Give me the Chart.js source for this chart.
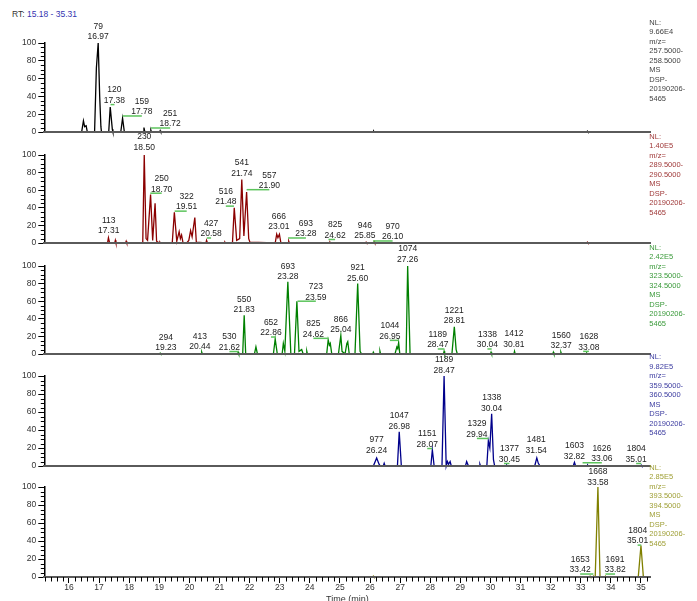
<!DOCTYPE html>
<html>
<head>
<meta charset="utf-8">
<script src="https://cdn.jsdelivr.net/npm/chart.js@4/dist/chart.umd.min.js"></script>
<style>
html,body{margin:0;padding:0;background:#fff;overflow:hidden;}
#wrap{position:relative;width:697px;height:601px;}
#wrap canvas{position:absolute;left:0;top:0;}
#rt{position:absolute;left:12px;top:9px;font:8.5px "Liberation Sans",Arial,sans-serif;color:#333;white-space:nowrap;}
#rt span{color:#3434b0;}
</style>
</head>
<body>
<div id="wrap">
<div id="rt">RT: <span>15.18 - 35.31</span></div>
<canvas id="c0" width="697" height="601"></canvas>
<canvas id="c1" width="697" height="601"></canvas>
<canvas id="c2" width="697" height="601"></canvas>
<canvas id="c3" width="697" height="601"></canvas>
<canvas id="c4" width="697" height="601"></canvas>
</div>
<script>
// ---------- DATA ----------
const rtRange = [15.18, 35.31];
const timeTicks = [16,17,18,19,20,21,22,23,24,25,26,27,28,29,30,31,32,33,34,35];

// Panel 1: m/z 257.5-258.5
const p1Time = [15.18,16.42,16.48,16.52,16.57,16.61,16.85,16.91,16.97,17.02,17.06,17.08,17.32,17.37,17.44,17.46,17.72,17.78,17.84,18.46,18.49,18.52,18.70,18.72,18.74,19.01,19.03,19.05,26.10,26.12,26.14,33.20,33.22,33.24,35.31];
const p1Int  = [0,0,12.5,6,7,0,0,72,100,40,6,0,0,28,3,0,0,15.5,0,0,5,0,0,2,0,0,1.5,0,0,1,0,0,1,0,0];
const p1Scans = ['79','120','159','251'];
const p1RTs   = ['16.97','17.38','17.78','18.72'];

// Panel 2: m/z 289.5-290.5
const p2Time = [15.18,17.28,17.31,17.35,17.52,17.54,17.56,17.88,17.90,17.92,
 18.45,18.50,18.56,18.61,18.71,18.78,18.86,18.91,19.00,19.02,19.04,
 19.43,19.50,19.58,19.66,19.70,19.74,19.79,
 19.91,19.98,20.04,20.09,20.18,20.23,
 20.55,20.57,20.60,21.16,21.18,21.20,
 21.43,21.49,21.57,21.67,21.74,21.81,21.90,21.97,22.01,
 22.85,22.90,22.94,22.99,23.04,
 23.28,23.30,23.32,24.65,24.67,24.69,25.85,25.87,25.89,26.12,26.14,26.16,33.20,33.22,33.24,35.31];
const p2Int = [0,0,6,0,0,3,0,0,2,0,
 0,100,5,3,55,3,45,2,0,1,0,
 0,35,2,13,5,9,0,
 0,3,14,7,29,1,
 0,3,0,0,1,0,
 0,40,3,5,72,8,58,5,1,
 0,10,6,10,0,
 0,2,0,0,1,0,0,1,0,0,1.5,0,0,1,0,0];
const p2Scans = ['113','230','250','322','427','516','541','557','666','693','825','946','970'];
const p2RTs   = ['17.31','18.50','18.70','19.51','20.58','21.48','21.74','21.90','23.01','23.28','24.62','25.85','26.10'];

// Panel 3: m/z 323.5-324.5
const p3Time = [15.18,19.01,19.03,19.05,20.39,20.41,20.43,21.60,21.62,21.64,
 21.77,21.82,21.87,22.16,22.21,22.26,
 22.79,22.85,22.92,23.08,23.12,23.17,23.27,23.37,
 23.49,23.57,23.64,23.73,23.78,23.88,23.90,23.92,
 24.56,24.61,24.65,24.68,24.73,
 24.95,24.98,25.03,25.07,25.17,25.23,25.26,25.31,
 25.50,25.59,25.67,25.72,
 26.09,26.11,26.14,26.31,26.33,26.35,
 26.83,26.89,26.92,26.95,26.99,
 27.20,27.25,27.33,
 28.44,28.46,28.48,
 28.72,28.80,28.86,28.90,
 30.00,30.02,30.04,30.78,30.80,30.82,32.07,32.09,32.11,32.32,32.34,32.36,33.18,33.20,33.22,35.31];
const p3Int = [0,0,1,0,0,2,0,0,2,0,
 0,44,0,0,8,0,
 0,17,0,0,12,3,82,0,
 0,60,3,5,0,0,3,0,
 0,16,10,12,0,
 0,8,21,3,0,12,14,0,
 0,80,3,0,
 0,2,0,0,3,0,
 0,8,6,13,0,
 0,100,0,
 0,3,0,
 0,31,5,0,
 0,2,0,0,3,0,0,2,0,0,2,0,0,1,0,0];
const p3Scans = ['294','413','530','550','652','693','723','825','866','921','1044','1074','1189','1221','1338','1412','1560','1628'];
const p3RTs   = ['19.23','20.44','21.62','21.83','22.86','23.28','23.59','24.62','25.04','25.60','26.95','27.26','28.47','28.81','30.04','30.81','32.37','33.08'];

// Panel 4: m/z 359.5-360.5
const p4Time = [15.18,26.11,26.22,26.30,26.34,26.44,26.47,26.50,
 26.91,26.97,27.04,
 28.02,28.07,28.13,
 28.39,28.46,28.53,28.57,28.61,28.66,28.70,
 29.17,29.21,29.27,29.63,29.65,29.67,
 29.88,29.93,29.98,30.04,30.10,30.14,
 30.52,30.54,30.56,
 31.47,31.54,31.59,31.65,
 32.75,32.79,32.83,33.21,33.23,33.25,34.99,35.01,35.03,35.31];
const p4Int = [0,0,9,2,0,0,3,0,
 0,38,0,
 0,18,0,
 0,100,0,5,2,5,0,
 0,5,0,0,2,0,
 0,28,20,58,7,0,
 0,1,0,
 0,9,3,0,
 0,4,0,0,1,0,0,1,0,0];
const p4Scans = ['977','1047','1151','1189','1329','1338','1377','1481','1603','1626','1804'];
const p4RTs   = ['26.24','26.98','28.07','28.47','29.94','30.04','30.45','31.54','32.82','33.06','35.01'];

// Panel 5: m/z 393.5-394.5
const p5Time = [15.18,26.09,26.11,26.13,33.29,33.31,33.33,33.40,33.42,33.44,33.48,33.57,33.64,33.80,33.82,33.84,34.91,35.00,35.08,35.31];
const p5Int  = [0,0,1,0,0,1,0,0,1,0,0,100,0,0,1,0,0,35,0,0];
const p5Scans = ['1653','1668','1691','1804'];
const p5RTs   = ['33.42','33.58','33.82','35.01'];

// Normalisation levels and mass ranges (right-hand text)
const nlValues = ['9.66E4','1.40E5','2.42E5','9.82E5','2.85E5'];
const mzLow    = ['257.5000','289.5000','323.5000','359.5000','393.5000'];
const mzHigh   = ['258.5000','290.5000','324.5000','360.5000','394.5000'];
const fileName = ['DSP-','20190206-','5465'];

// ---------- ANNOTATION PLACEMENT (time, % level of label foot) ----------
const labelAnchors = [
 [[16.97,102.6],[17.51,30.8],[18.42,18],[19.36,4.5]],
 [[17.32,9.1],[18.50,103.8],[19.08,56.6],[19.91,36.2],[20.72,5.7],[21.21,41.9],[21.74,74.4],[22.655,60.6],[22.97,13.6],[23.87,5.7],[24.84,4],[25.83,3.7],[26.75,2.3]],
 [[19.22,2.3],[20.35,3.4],[21.33,2.8],[21.82,45.3],[22.71,19.3],[23.27,83],[24.20,60],[24.12,17.8],[25.03,22.6],[25.59,81.2],[26.66,15.5],[27.25,103],[28.25,5.7],[28.80,33.2],[29.90,5.7],[30.78,6.5],[32.35,4.9],[33.27,3]],
 [[26.22,12.8],[26.97,39.4],[27.90,19.4],[28.46,101.7],[29.55,30.6],[30.04,59.8],[30.63,2.8],[31.52,12.8],[32.79,6.1],[33.70,3.6],[34.84,2.8]],
 [[32.98,3.3],[33.57,100.9],[34.14,3.3],[34.89,35.4]]
];

// ---------- LAYOUT / STYLE ----------
const W = 697, H = 601, PLOT_L = 44.3, PLOT_R = 650.3;
const panelBox = [[43,132],[155,243],[266,354],[376,466],[487,577]];
const lineColors = ['#000000','#8b0000','#008000','#00008b','#808000'];
const textColors = ['#444444','#a03a3a','#3a9a3a','#3c3ca0','#a0a038'];
const nlOffsets = [-20.5,-18.5,-18.2,-18.7,-19.5];
const FONT = '"Liberation Sans", Arial, sans-serif';

const panels = [
 {time:p1Time, int:p1Int, scans:p1Scans, rts:p1RTs},
 {time:p2Time, int:p2Int, scans:p2Scans, rts:p2RTs},
 {time:p3Time, int:p3Int, scans:p3Scans, rts:p3RTs},
 {time:p4Time, int:p4Int, scans:p4Scans, rts:p4RTs},
 {time:p5Time, int:p5Int, scans:p5Scans, rts:p5RTs}
];

function decorPlugin(i, isBottom) {
  const p = panels[i];
  return {
    id: 'decor' + i,
    afterDraw(chart) {
      const ctx = chart.ctx, xs = chart.scales.x, ys = chart.scales.y, ca = chart.chartArea;
      ctx.save();
      // minor y ticks
      ctx.strokeStyle = '#000'; ctx.lineWidth = 1;
      ctx.beginPath();
      for (let v = 5; v < 100; v += 5) {
        if (v % 20 === 0) continue;
        const y = Math.round(ys.getPixelForValue(v)) + 0.5;
        ctx.moveTo(ca.left - 3.5, y); ctx.lineTo(ca.left, y);
      }
      ctx.stroke();
      // minor x ticks on bottom axis
      if (isBottom) {
        ctx.beginPath();
        for (let k = Math.ceil(rtRange[0] * 5); k <= Math.floor(rtRange[1] * 5); k++) {
          if (k % 5 === 0) continue;
          const x = Math.round(xs.getPixelForValue(k / 5)) + 0.5;
          ctx.moveTo(x, ca.bottom); ctx.lineTo(x, ca.bottom + 4.5);
        }
        ctx.stroke();
      }
      // peak labels with leader lines
      const anchors = labelAnchors[i];
      ctx.font = '8.5px ' + FONT;
      ctx.textAlign = 'center'; ctx.textBaseline = 'middle';
      p.scans.forEach((s, j) => {
        const x = xs.getPixelForValue(anchors[j][0]);
        const y = ys.getPixelForValue(anchors[j][1]);
        const px = xs.getPixelForValue(parseFloat(p.rts[j]));
        if (Math.abs(px - x) > 3) {
          ctx.strokeStyle = '#5cc45c'; ctx.lineWidth = 1.5;
          ctx.beginPath(); ctx.moveTo(px, y); ctx.lineTo(x, y); ctx.stroke();
        }
        ctx.fillStyle = '#222';
        ctx.fillText(p.rts[j], x, y - 4);
        ctx.fillText(s, x, y - 14.5);
      });
      // right-hand NL block
      const lines = ['NL:', nlValues[i], 'm/z=', mzLow[i] + '-', mzHigh[i], 'MS'].concat(fileName);
      ctx.font = '7.5px ' + FONT;
      ctx.textAlign = 'left'; ctx.fillStyle = textColors[i];
      lines.forEach((t, k) => ctx.fillText(t, ca.right - 1, ca.top + nlOffsets[i] + k * 9.5));
      ctx.restore();
    }
  };
}

panels.forEach((p, i) => {
  const isBottom = i === panels.length - 1;
  const [top, bottom] = panelBox[i];
  const xH = isBottom ? (H - bottom) : 0;
  new Chart(document.getElementById('c' + i), {
    type: 'line',
    data: {
      datasets: [{
        data: p.time.map((t, k) => ({x: t, y: p.int[k]})),
        borderColor: lineColors[i], borderWidth: 1.3,
        pointRadius: 0, tension: 0, fill: false, clip: false
      }]
    },
    options: {
      responsive: false, animation: false, devicePixelRatio: 1,
      layout: {padding: {left: 0, right: W - PLOT_R, top: top, bottom: H - bottom - xH}},
      plugins: {legend: {display: false}, tooltip: {enabled: false}},
      scales: {
        x: {
          type: 'linear', min: rtRange[0], max: rtRange[1],
          afterBuildTicks: s => { s.ticks = timeTicks.map(v => ({value: v})); },
          afterFit: s => { s.height = xH; },
          ticks: {display: isBottom, color: '#333', font: {family: FONT, size: 8.5}, padding: 0, maxRotation: 0, autoSkip: false},
          grid: {display: isBottom, drawOnChartArea: false, tickLength: 6, color: '#000', lineWidth: 1},
          border: {display: true, color: '#5a5a5a', width: 2, z: 1},
          title: {display: isBottom, text: 'Time (min)', color: '#333', font: {family: FONT, size: 9}, padding: {top: 0, bottom: -4}}
        },
        y: {
          min: 0, max: 100,
          afterFit: s => { s.width = PLOT_L; },
          ticks: {stepSize: 20, color: '#333', font: {family: FONT, size: 8.5}, padding: 2},
          grid: {display: true, drawOnChartArea: false, tickLength: 6, color: '#000', lineWidth: 1},
          border: {display: true, color: '#000', width: 1.5}
        }
      }
    },
    plugins: [decorPlugin(i, isBottom)]
  });
});
</script>
</body>
</html>
